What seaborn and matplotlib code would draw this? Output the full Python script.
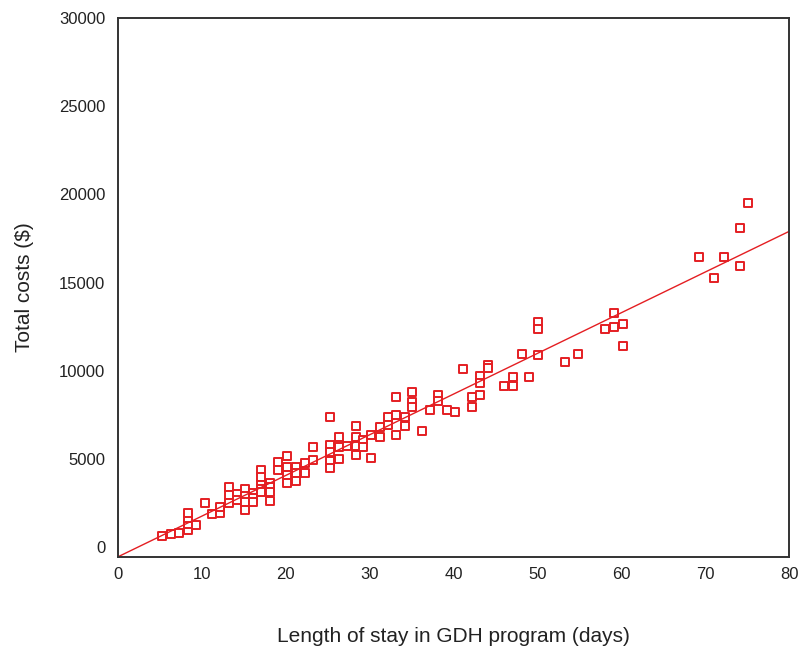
import numpy as np
import pandas as pd
import matplotlib
matplotlib.use("Agg")
import matplotlib.pyplot as plt
import seaborn as sns

# Length of stay (days) and total costs ($)
los_days = [
    5.2, 6.3, 7.3, 8.3, 8.3, 8.3, 8.3, 9.3, 10.4, 11.2, 12.2, 12.2,
    13.2, 13.2, 13.2, 14.2, 14.2, 15.1, 15.1, 15.1, 15.1, 16.1, 16.1, 16.1,
    17.1, 17.1, 17.1, 17.1, 17.1, 18.1, 18.1, 18.1, 18.1, 19.1, 19.1,
    20.1, 20.1, 20.1, 20.1, 21.2, 21.2, 21.2, 22.3, 22.3, 23.2, 23.2,
    25.3, 25.3, 25.3, 25.3, 25.3, 26.3, 26.3, 26.3, 27.3,
    28.4, 28.4, 28.4, 28.4, 29.2, 29.2, 30.2, 30.2, 31.2, 31.2,
    32.2, 32.2, 33.2, 33.2, 33.2, 34.2, 34.2, 35.1, 35.1, 35.1,
    36.2, 37.2, 38.1, 38.1, 39.2, 40.2, 41.1, 42.2, 42.2,
    43.1, 43.1, 43.2, 44.1, 44.1, 46.0, 47.1, 47.1, 48.2, 49.0,
    50.1, 50.1, 50.1, 53.3, 54.9, 58.1, 59.1, 59.1, 60.2, 60.2,
    69.3, 71.1, 72.3, 74.1, 74.1, 75.1,
]
total_costs = [
    620, 720, 780, 960, 1300, 1630, 1950, 1250, 2530, 1870, 1950, 2290,
    3390, 2950, 2510, 3010, 2700, 3270, 2900, 2570, 2100, 3050, 2800, 2570,
    4370, 3990, 3520, 3300, 3140, 3610, 3400, 3140, 2630, 4840, 4400,
    5160, 4550, 4080, 3610, 4550, 4180, 3760, 4750, 4210, 5650, 4930,
    7360, 5780, 5400, 4890, 4460, 6260, 5690, 4970, 5730,
    6860, 6260, 5730, 5220, 6070, 5690, 6350, 5060, 6790, 6260,
    7360, 6920, 8520, 7490, 6350, 7360, 6860, 8810, 8240, 7960,
    6600, 7770, 8620, 8300, 7770, 7670, 10080, 8520, 7920,
    9700, 9320, 8620, 10320, 10130, 9130, 9620, 9130, 10950, 9660,
    12780, 12350, 10890, 10510, 10950, 12350, 12460, 13290, 12650, 11420,
    16430, 15240, 16460, 18110, 15940, 19530,
]
x_ticks = [0, 10, 20, 30, 40, 50, 60, 70, 80]
y_ticks = [0, 5000, 10000, 15000, 20000, 25000, 30000]

df = pd.DataFrame({"los": los_days, "cost": total_costs})

sns.set_theme(style="white")
plt.rcParams["font.family"] = ["Liberation Sans", "DejaVu Sans"]

W, H = 799, 655
fig = plt.figure(figsize=(W / 100, H / 100), dpi=100)
ax = fig.add_axes([118 / W, 1 - 557 / H, (789 - 118) / W, (557 - 18) / H])
ax.set_xlim(0, 80)
ax.set_ylim(-560, 30000)

red = "#e41e22"
sns.regplot(
    data=df, x="los", y="cost", ax=ax, ci=None, truncate=False,
    marker="s",
    scatter_kws=dict(s=34, facecolors="white", edgecolors=red,
                     linewidths=1.4, alpha=1.0),
    line_kws=dict(color=red, linewidth=1.0),
)

ax.set_xticks(x_ticks)
ax.set_yticks(y_ticks)
ax.tick_params(axis="both", length=0, labelsize=12, colors="#222222")
ax.tick_params(axis="y", pad=9)
ax.tick_params(axis="x", pad=7)
for sp in ax.spines.values():
    sp.set_color("#333333")
    sp.set_linewidth(1.4)

ax.set_xlabel("Length of stay in GDH program (days)", fontsize=15, color="#222222")
ax.set_ylabel("Total costs ($)", fontsize=15, color="#222222")
ax.xaxis.set_label_coords(0.5, (557 - 637) / 539, transform=ax.transAxes)
ax.xaxis.label.set_va("center")
ax.yaxis.set_label_coords((25 - 118) / 671, 0.5, transform=ax.transAxes)
ax.yaxis.label.set_va("center")

fig.savefig("out.png", dpi=100, facecolor="white")
